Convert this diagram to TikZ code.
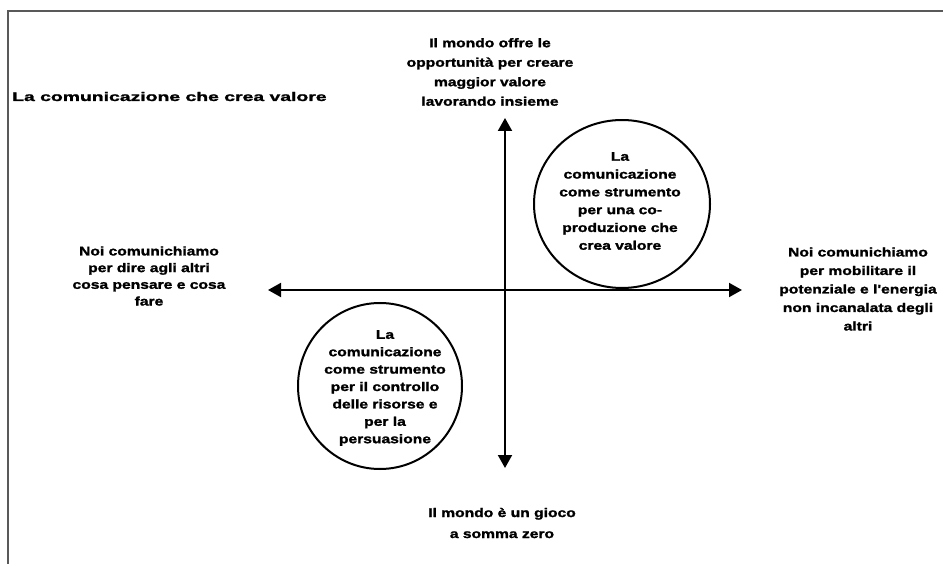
\documentclass[tikz,border=0pt]{standalone}
\usepackage{fontspec}
\setmainfont{Liberation Sans}
\newfontfamily\lblfont[FakeStretch=1.25,FakeBold=1.6]{Liberation Sans}
\newfontfamily\titlefont[FakeStretch=1.55,FakeBold=1.6]{Liberation Sans}
\usetikzlibrary{arrows.meta}
\begin{document}
\begin{tikzpicture}[x=1pt,y=-1pt,
  lbl/.style={align=center,inner sep=0pt,font=\lblfont\bfseries\fontsize{12.5}{18}\selectfont},
  axis/.style={line width=2pt,{Triangle[length=13pt,width=14pt]}-{Triangle[length=13pt,width=14pt]}},
  ring/.style={draw,line width=2pt},
  frame/.style={draw=black!65,line width=1.5pt}]
\useasboundingbox (0,0) rectangle (943,564);
\fill[white] (0,0) rectangle (943,564);

% partial frame: top and left edges
\draw[frame] (8,564) -- (8,11) -- (943,11);

% title
\node[lbl,anchor=base west,font=\titlefont\bfseries\fontsize{12.5}{18}\selectfont] (title) at (12,101) {La comunicazione che crea valore};

% axis ends
\coordinate (top) at (505,118);
\coordinate (bottom) at (505,468);
\coordinate (left) at (268,290);
\coordinate (right) at (742,290);

% quadrant ellipses
\draw[ring] (622,204) ellipse[x radius=88,y radius=84];
\draw[ring] (380,386) ellipse[x radius=82,y radius=83];

% axes
\draw[axis] (left) -- (right);
\draw[axis] (top) -- (bottom);

% pole labels
\node[lbl,font=\lblfont\bfseries\fontsize{12.5}{19.5}\selectfont] (north) at (490,72)
  {Il mondo offre le\\opportunità per creare\\maggior valore\\lavorando insieme};
\node[lbl,font=\lblfont\bfseries\fontsize{12.5}{21}\selectfont] (south) at (502,523)
  {Il mondo è un gioco\\a somma zero};
\node[lbl,font=\lblfont\bfseries\fontsize{12.5}{16.7}\selectfont] (west) at (149,276)
  {Noi comunichiamo\\per dire agli altri\\cosa pensare e cosa\\fare};
\node[lbl,font=\lblfont\bfseries\fontsize{12.5}{18.5}\selectfont] (east) at (858,289)
  {Noi comunichiamo\\per mobilitare il\\potenziale e l'energia\\non incanalata degli\\altri};

% texts inside the ellipses
\node[lbl,font=\lblfont\bfseries\fontsize{12.5}{17.8}\selectfont] (upper) at (620,201)
  {La\\comunicazione\\come strumento\\per una co-\\produzione che\\crea valore};
\node[lbl,font=\lblfont\bfseries\fontsize{12.5}{17.4}\selectfont] (lower) at (385,388)
  {La\\comunicazione\\come strumento\\per il controllo\\delle risorse e\\per la\\persuasione};
\end{tikzpicture}
\end{document}
